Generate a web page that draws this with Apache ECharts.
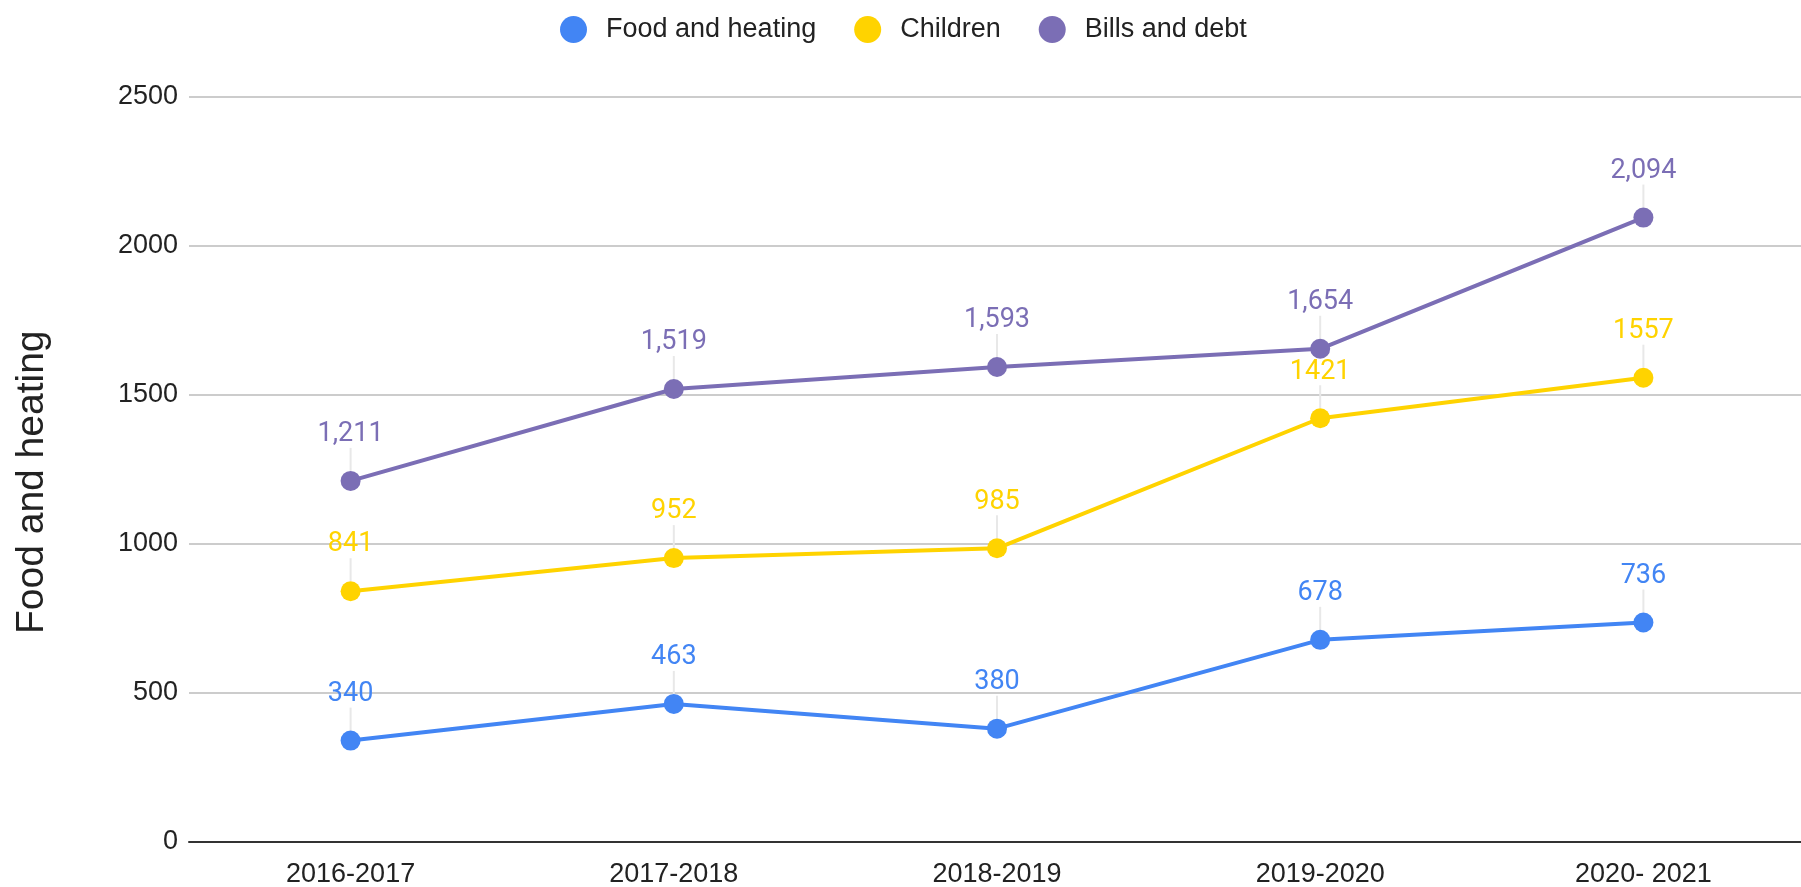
<!DOCTYPE html>
<html>
<head>
<meta charset="utf-8">
<script src="https://cdn.jsdelivr.net/npm/echarts@6/dist/echarts.min.js"></script>
<style>
  html, body { margin: 0; padding: 0; background: #fff; }
  #chart { width: 1801px; height: 887px; }
</style>
</head>
<body>
<div id="chart"></div>
<script>
// data
var years = ['2016-2017', '2017-2018', '2018-2019', '2019-2020', '2020- 2021'];
var foodHeating = [340, 463, 380, 678, 736];
var children = [841, 952, 985, 1421, 1557];
var billsDebt = [1211, 1519, 1593, 1654, 2094];
var yTicks = { min: 0, max: 2500, interval: 500 };

var colors = { food: '#4285f4', children: '#ffd300', bills: '#7b6eb5' };

function withComma(v) {
  return String(v).replace(/\B(?=(\d{3})+(?!\d))/g, ',');
}

function makeSeries(name, data, color, fmt) {
  return {
    name: name,
    type: 'line',
    data: data,
    symbol: 'circle',
    symbolSize: 20,
    lineStyle: { color: color, width: 4 },
    itemStyle: { color: color },
    label: {
      show: true,
      position: 'top',
      distance: 0,
      color: color,
      fontFamily: 'Roboto',
      fontSize: 27,
      formatter: function (p) { return fmt(p.value); }
    },
    labelLayout: { dy: -23 },
    labelLine: { show: true, lineStyle: { color: '#e8e8e8', width: 2 } },
    emphasis: { disabled: true },
    animation: false
  };
}

var chart = echarts.init(document.getElementById('chart'));
chart.setOption({
  backgroundColor: '#fff',
  legend: {
    left: 555,
    top: 11,
    icon: 'circle',
    itemWidth: 27,
    itemHeight: 27,
    itemGap: 38,
    textStyle: { fontFamily: 'Liberation Sans', fontSize: 27, color: '#222', padding: [0, 0, 0, 14] },
    data: ['Food and heating', 'Children', 'Bills and debt']
  },
  grid: { left: 189, right: -4, top: 96.5, bottom: 45, outerBoundsMode: 'none' },
  xAxis: {
    type: 'category',
    data: years,
    axisLine: { lineStyle: { color: '#333', width: 2 } },
    axisTick: { show: false },
    axisLabel: { fontFamily: 'Liberation Sans', fontSize: 27, color: '#222', margin: 19 }
  },
  yAxis: {
    type: 'value',
    min: yTicks.min,
    max: yTicks.max,
    interval: yTicks.interval,
    name: 'Food and heating',
    nameLocation: 'middle',
    nameRotate: 90,
    nameGap: 137,
    nameTextStyle: { fontFamily: 'Liberation Sans', fontSize: 39, color: '#222', padding: [0, 26, 0, 0] },
    axisLine: { show: false },
    axisTick: { show: false },
    axisLabel: { fontFamily: 'Liberation Sans', fontSize: 27, color: '#222', margin: 11, formatter: String },
    splitLine: { lineStyle: { color: '#cccccc', width: 2 } }
  },
  series: [
    makeSeries('Food and heating', foodHeating, colors.food, String),
    makeSeries('Children', children, colors.children, String),
    makeSeries('Bills and debt', billsDebt, colors.bills, withComma)
  ]
});
</script>
</body>
</html>
